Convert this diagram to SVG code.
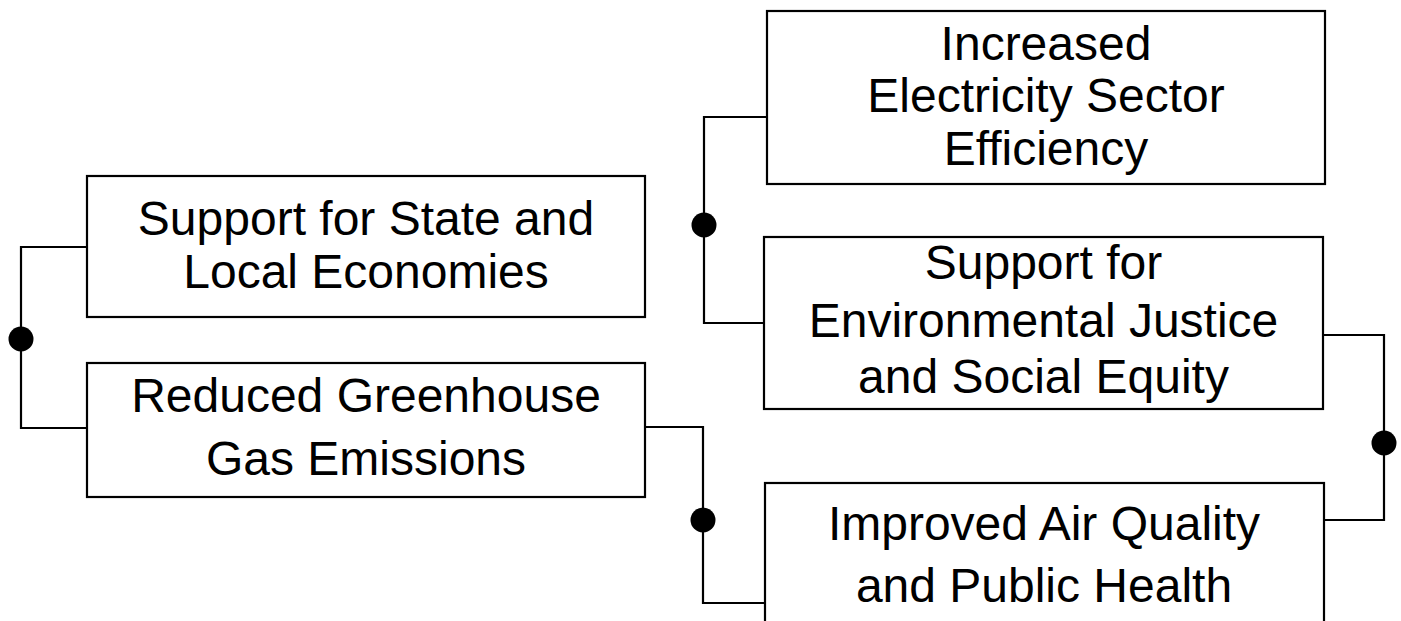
<svg xmlns="http://www.w3.org/2000/svg" width="1401" height="621" viewBox="0 0 1401 621">
<style>
.box{fill:#fff;stroke:#000;stroke-width:2.2}
.lbl{font-family:"Liberation Sans",Arial,sans-serif;font-size:48px;fill:#000;text-anchor:middle}
.con{fill:none;stroke:#000;stroke-width:2.2}
.dot{fill:#000}
</style>
<rect width="1401" height="621" fill="#fff"/>
<g id="connectors">
<path class="con" d="M87,247 H21 V428 H87"/>
<circle class="dot" cx="21" cy="339" r="12.5"/>
<path class="con" d="M645,427 H703 V603 H765"/>
<circle class="dot" cx="703" cy="520" r="12.5"/>
<path class="con" d="M767,117 H704 V323 H764"/>
<circle class="dot" cx="704" cy="225" r="12.5"/>
<path class="con" d="M1323,335 H1384 V520 H1324"/>
<circle class="dot" cx="1384" cy="443" r="12.5"/>
</g>
<g id="n1">
<rect class="box" x="87" y="176" width="558" height="141"/>
<text class="lbl" x="366" y="235">Support for State and</text>
<text class="lbl" x="366" y="288">Local Economies</text>
</g>
<g id="n2">
<rect class="box" x="87" y="363" width="558" height="134"/>
<text class="lbl" x="366" y="412">Reduced Greenhouse</text>
<text class="lbl" x="366" y="475">Gas Emissions</text>
</g>
<g id="n3">
<rect class="box" x="767" y="11" width="558" height="173"/>
<text class="lbl" x="1046" y="60">Increased</text>
<text class="lbl" x="1046" y="112">Electricity Sector</text>
<text class="lbl" x="1046" y="165">Efficiency</text>
</g>
<g id="n4">
<rect class="box" x="764" y="237" width="559" height="172"/>
<text class="lbl" x="1043.5" y="279">Support for</text>
<text class="lbl" x="1043.5" y="337">Environmental Justice</text>
<text class="lbl" x="1043.5" y="393">and Social Equity</text>
</g>
<g id="n5">
<rect class="box" x="765" y="483" width="559" height="150"/>
<text class="lbl" x="1044" y="540">Improved Air Quality</text>
<text class="lbl" x="1044" y="602">and Public Health</text>
</g>
</svg>
